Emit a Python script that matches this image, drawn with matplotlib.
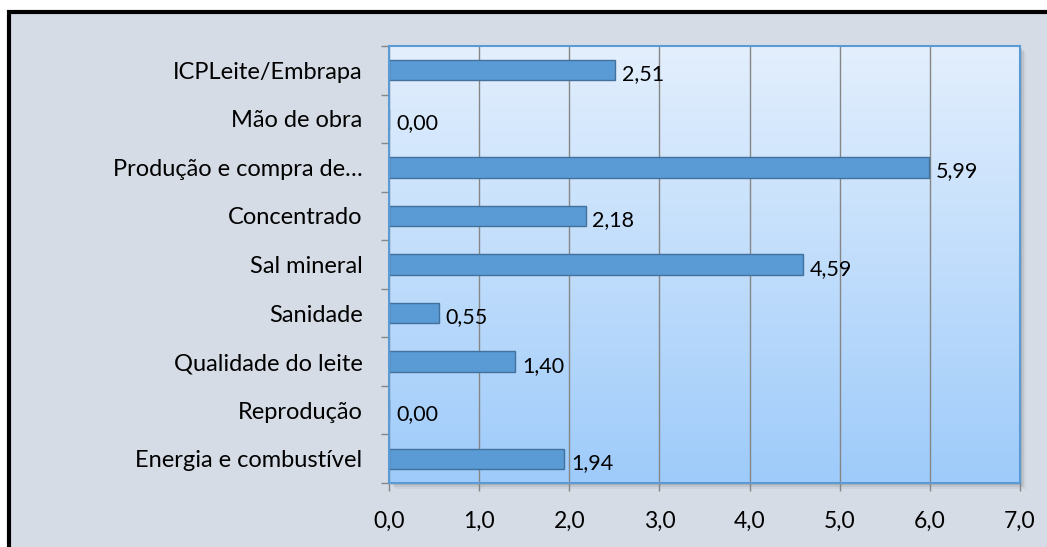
import numpy as np
import matplotlib.pyplot as plt
from matplotlib.patches import Rectangle
from matplotlib.colors import LinearSegmentedColormap

plt.rcParams['font.family'] = ['Lato', 'DejaVu Sans']

#%% Dados
categorias = ['ICPLeite/Embrapa', 'Mão de obra', 'Produção e compra de…',
              'Concentrado', 'Sal mineral', 'Sanidade', 'Qualidade do leite',
              'Reprodução', 'Energia e combustível']
valores = [2.51, 0.00, 5.99, 2.18, 4.59, 0.55, 1.40, 0.00, 1.94]
xticks = [0, 1, 2, 3, 4, 5, 6, 7]

def fmt(v, casas):
    return f'{v:.{casas}f}'.replace('.', ',')

#%% Figura
fig = plt.figure(figsize=(10.47, 5.47), dpi=100, facecolor='white')

# moldura preta
fig.patches.append(Rectangle((9/1047, -0.1), 1.2, 1.1 - 11.5/547,
                             transform=fig.transFigure, facecolor='#d6dce5',
                             edgecolor='black', linewidth=3, zorder=-3))

ax = fig.add_axes([389/1047, 1 - 483/547, 631/1047, 437/547])

# sombra
for i, a in enumerate([0.10, 0.07, 0.04]):
    d = (i + 1) * 2
    fig.patches.append(Rectangle((389/1047 + d/1047, 1 - 483/547 - d/547),
                                 631/1047, 437/547, transform=fig.transFigure,
                                 facecolor='black', alpha=a, edgecolor='none',
                                 zorder=-2))

# fundo em degradê
cmap = LinearSegmentedColormap.from_list('fundo', ['#e3effd', '#9ecbfa'])
grad = np.linspace(0, 1, 256).reshape(-1, 1)
ax.imshow(grad, cmap=cmap, aspect='auto', extent=[0, 7, 8.5, -0.5],
          zorder=0)

y = np.arange(len(categorias))
ax.barh(y, valores, height=0.42, color='#5b9bd5', edgecolor='#41719c',
        linewidth=1, zorder=3)

for yi, v in zip(y, valores):
    ax.annotate(fmt(v, 2), xy=(v, yi), xytext=(5, -3), textcoords='offset points',
                va='center', ha='left', fontsize=15.5, color='black', zorder=4)

ax.set_xlim(0, 7)
ax.set_ylim(8.5, -0.5)
ax.set_xticks(xticks)
ax.set_xticklabels([fmt(t, 1) for t in xticks], fontsize=16.5)
ax.set_yticks(y)
ax.set_yticklabels(categorias, fontsize=17)
ax.set_yticks(np.arange(-0.5, 9, 1), minor=True)
ax.tick_params(axis='y', which='major', length=0, pad=19)
ax.tick_params(axis='y', which='minor', length=6, color='#868686', width=1)
ax.tick_params(axis='x', length=6, color='#868686', width=1, pad=14)
ax.xaxis.grid(True, color='#868686', linewidth=1, zorder=1)
ax.set_axisbelow(True)
for s in ax.spines.values():
    s.set_color('#5b9bd5')
    s.set_linewidth(1.5)
    s.set_zorder(5)

fig.savefig('out.png', dpi=100)
